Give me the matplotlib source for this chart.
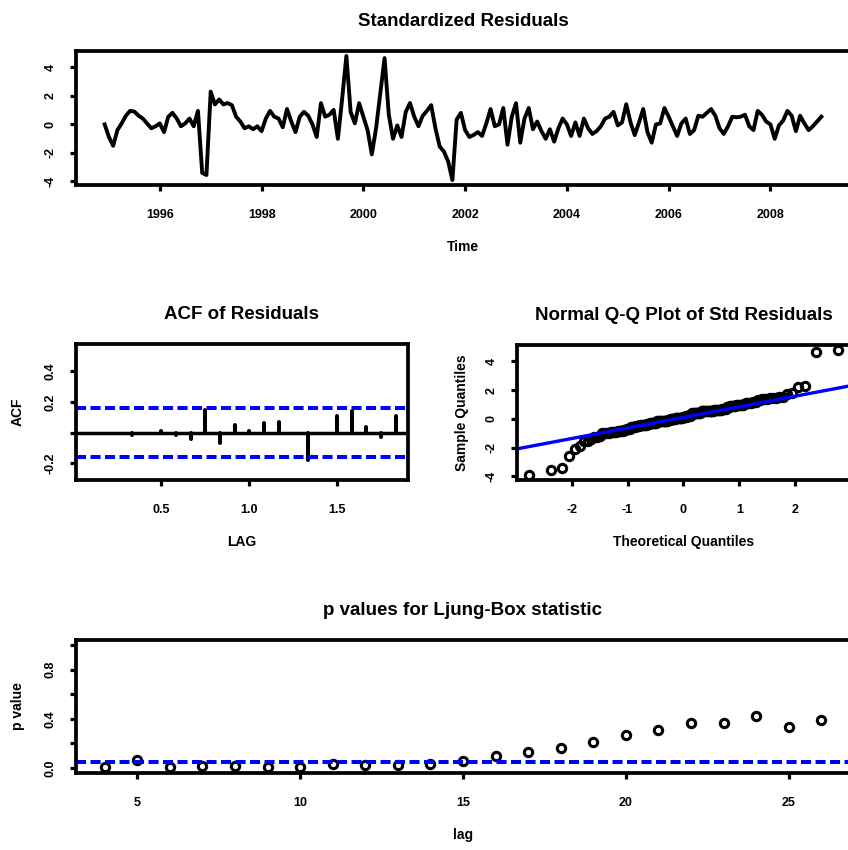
import statistics

import matplotlib
matplotlib.use("Agg")
import matplotlib.pyplot as plt
import numpy as np

# standardized residuals, monthly, first value Dec 1994
resid = [
    0.0, -0.88, -1.5, -0.4, 0.07, 0.61, 0.95, 0.9, 0.61, 0.41,
    0.07, -0.27, -0.13, 0.07, -0.54, 0.54, 0.81, 0.41, -0.13, 0.07,
    0.41, -0.13, 0.95, -3.4, -3.55, 2.3, 1.4, 1.75, 1.4, 1.5,
    1.35, 0.54, 0.2, -0.27, -0.13, -0.34, -0.13, -0.47, 0.41, 0.95,
    0.54, 0.41, -0.2, 1.08, 0.2, -0.54, 0.54, 0.88, 0.61, 0.0,
    -0.88, 1.49, 0.54, 0.68, 1.02, -1.01, 1.8, 4.8, 0.88, 0.07,
    1.49, 0.54, -0.4, -2.1, -0.27, 2.2, 4.65, 0.68, -1.01, -0.07,
    -0.88, 0.88, 1.5, 0.54, -0.13, 0.61, 0.95, 1.35, -0.27, -1.55,
    -1.9, -2.6, -3.9, 0.34, 0.81, -0.4, -0.88, -0.74, -0.54, -0.81,
    0.07, 1.08, -0.13, 0.0, 1.15, -1.42, 0.54, 1.49, -1.28, 0.41,
    1.15, -0.34, 0.2, -0.47, -1.01, -0.34, -1.21, -0.27, 0.41, 0.0,
    -0.81, 0.14, -0.81, 0.41, -0.27, -0.67, -0.47, -0.13, 0.41, 0.54,
    0.88, -0.07, 0.14, 1.42, 0.15, -0.75, 0.14, 1.08, -0.54, -1.28,
    0.0, 0.07, 1.15, 0.54, -0.13, -0.81, 0.07, 0.41, -0.67, -0.4,
    0.61, 0.54, 0.81, 1.08, 0.61, -0.27, -0.67, -0.13, 0.54, 0.5,
    0.54, 0.68, -0.13, -0.4, 0.95, 0.68, 0.2, 0.0, -1.01, -0.07,
    0.27, 0.95, 0.61, -0.47, 0.61, 0.07, -0.4, -0.13, 0.2, 0.54,
]
start_year = 1994 + 11 / 12
year_ticks = [1996, 1998, 2000, 2002, 2004, 2006, 2008]
resid_ticks = [-4, -2, 0, 2, 4]

# residual autocorrelations, lags in months
acf_lags = list(range(1, 23))
acf_vals = [
    0.0, 0.0, 0.0, -0.015, 0.0, 0.013, -0.015, -0.038, 0.145, -0.065,
    0.051, 0.013, 0.062, 0.073, 0.0, -0.175, 0.0, 0.107, 0.14, 0.035,
    -0.027, 0.109,
]
acf_bound = 0.16
acf_xticks = [0.5, 1.0, 1.5]
acf_yticks = [-0.2, 0.0, 0.2, 0.4]
acf_ylabels = ["-0.2", "", "0.2", "0.4"]

qq_xticks = [-2, -1, 0, 1, 2]

# Ljung-Box p values
lb_lags = list(range(4, 27))
lb_pvals = [
    0.011, 0.065, 0.005, 0.019, 0.019, 0.005, 0.011, 0.033, 0.027, 0.027,
    0.033, 0.054, 0.10, 0.13, 0.165, 0.215, 0.265, 0.31, 0.37, 0.37,
    0.42, 0.33, 0.39,
]
lb_level = 0.05
lb_xticks = [5, 10, 15, 20, 25]
lb_yticks = [0.0, 0.2, 0.4, 0.6, 0.8, 1.0]
lb_ylabels = ["0.0", "", "0.4", "", "0.8", ""]

W, H = 848, 850
BLUE = "#0000ff"
DASH = (0, (2.5, 1.1))

plt.rcParams.update({
    "font.family": ["Liberation Sans", "DejaVu Sans"],
    "font.weight": "bold",
    "font.size": 9,
    "axes.unicode_minus": False,
    "axes.linewidth": 2.7,
    "axes.titlesize": 13.5,
    "axes.titleweight": "bold",
    "axes.titlepad": 18,
    "axes.labelsize": 10,
    "axes.labelweight": "bold",
    "xtick.direction": "out",
    "ytick.direction": "out",
    "xtick.major.size": 4,
    "ytick.major.size": 4,
    "xtick.major.width": 2.3,
    "ytick.major.width": 2.3,
    "xtick.major.pad": 13,
    "ytick.major.pad": 10,
})


def panel(fig, x0, y0, x1, y1):
    """Axes from pixel box (left, top, right, bottom)."""
    return fig.add_axes([x0 / W, 1 - y1 / H, (x1 - x0) / W, (y1 - y0) / H])


def rot_yticks(ax, ticks, labels=None):
    ax.set_yticks(ticks)
    ax.set_yticklabels(labels if labels is not None else [f"{t:g}" for t in ticks],
                       rotation=90, va="center")


fig = plt.figure(figsize=(W / 100, H / 100), dpi=100)

# --- standardized residuals ---
ax1 = panel(fig, 76, 51, 850, 185)
t = start_year + np.arange(len(resid)) / 12
ax1.plot(t, resid, color="black", lw=2.8, solid_joinstyle="round")
ax1.margins(x=0.04, y=0.04)
ax1.set_xticks(year_ticks)
rot_yticks(ax1, resid_ticks)
ax1.set_title("Standardized Residuals")
ax1.set_xlabel("Time", labelpad=14)

# --- ACF of residuals ---
ax2 = panel(fig, 76, 344, 408, 480)
lag_yrs = np.array(acf_lags) / 12
acf = np.array(acf_vals)
ax2.vlines(lag_yrs, 0, acf, color="black", lw=2.9, capstyle="round")
ax2.axhline(0, color="black", lw=2.5)
for b in (acf_bound, -acf_bound):
    ax2.axhline(b, color=BLUE, lw=2.9, ls=DASH)
lo, hi = acf.min() - 0.1, min(1.0, acf.max() + 0.4)
pad = 0.04 * (hi - lo)
ax2.set_ylim(lo - pad, hi + pad)
ax2.margins(x=0.04)
ax2.set_xticks(acf_xticks)
ax2.set_xticklabels([f"{v:.1f}" for v in acf_xticks])
rot_yticks(ax2, acf_yticks, acf_ylabels)
ax2.set_title("ACF of Residuals")
ax2.set_xlabel("LAG", labelpad=14)
ax2.set_ylabel("ACF", labelpad=14)

# --- normal Q-Q plot ---
ax3 = panel(fig, 517, 345, 850, 480)
n = len(resid)
nd = statistics.NormalDist()
theo = np.array([nd.inv_cdf((i + 0.5) / n) for i in range(n)])
samp = np.sort(resid)
ax3.plot(theo, samp, "o", ms=6, mfc="none", mec="black", mew=2.2)
q1, q3 = np.percentile(resid, [25, 75])
z1, z3 = nd.inv_cdf(0.25), nd.inv_cdf(0.75)
slope = (q3 - q1) / (z3 - z1)
icpt = q1 - slope * z1
ax3.margins(x=0.04, y=0.04)
xl = ax3.get_xlim()
ax3.plot(xl, [icpt + slope * xl[0], icpt + slope * xl[1]], color=BLUE, lw=2.4)
ax3.set_xlim(xl)
ax3.set_xticks(qq_xticks)
rot_yticks(ax3, resid_ticks)
ax3.set_title("Normal Q-Q Plot of Std Residuals")
ax3.set_xlabel("Theoretical Quantiles", labelpad=14)
ax3.set_ylabel("Sample Quantiles", labelpad=12)

# --- Ljung-Box p values ---
ax4 = panel(fig, 76, 640, 850, 773)
ax4.plot(lb_lags, lb_pvals, "o", ms=6, mfc="none", mec="black", mew=2.2)
ax4.axhline(lb_level, color=BLUE, lw=2.9, ls=DASH)
ax4.set_ylim(-0.04, 1.04)
ax4.margins(x=0.04)
ax4.set_xticks(lb_xticks)
rot_yticks(ax4, lb_yticks, lb_ylabels)
ax4.set_title("p values for Ljung-Box statistic")
ax4.set_xlabel("lag", labelpad=14)
ax4.set_ylabel("p value", labelpad=14)

fig.savefig("out.png", dpi=100)
plt.close(fig)
